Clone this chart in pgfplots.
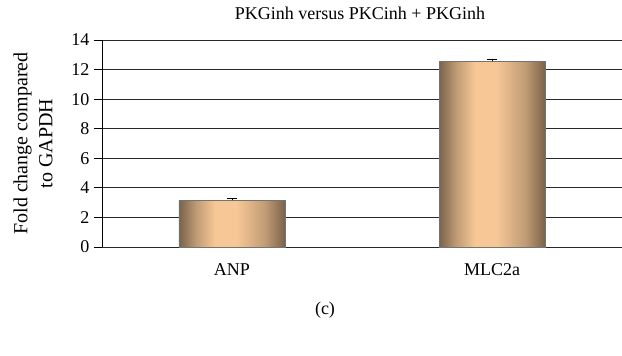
\documentclass[border=0pt]{standalone}
\usepackage{pgfplots}
\pgfplotsset{compat=1.18}
\usepackage{fontspec}
\setmainfont{Liberation Serif}

\definecolor{bardark}{RGB}{122,98,74}
\definecolor{barlight}{RGB}{247,200,150}
\definecolor{gridc}{RGB}{40,40,40}

% cylinder-like horizontal shading for the bars (mapped on 25bp..75bp)
\pgfdeclarehorizontalshading{barshade}{100bp}{%
  color(0bp)=(bardark); color(25bp)=(bardark);
  color(33bp)=(bardark!45!barlight); color(42bp)=(barlight);
  color(52bp)=(barlight); color(66bp)=(bardark!45!barlight);
  color(75bp)=(bardark); color(100bp)=(bardark)}

\pgfplotsset{
  cylbar/.style={
    draw=black!55, line width=0.5pt,
    shading=barshade, bar shift=0pt,
    error bars/.cd, y dir=plus, y explicit,
    error bar style={black, line width=0.9pt},
    error mark options={rotate=90, mark size=5pt, black, line width=0.9pt},
  },
}

\begin{document}
\begin{tikzpicture}
\path[use as bounding box] (0pt,0pt) rectangle (622pt,356pt);
\begin{axis}[
  at={(102pt,109pt)}, anchor=south west,
  scale only axis,
  width=520pt, height=207pt,
  xmin=-0.5, xmax=1.5,
  ymin=0, ymax=14,
  ytick={0,2,...,14},
  xtick={0,1},
  xticklabels={ANP,MLC2a},
  axis x line=bottom,
  axis y line=left,
  axis line style={-, black, line width=0.8pt},
  x axis line style={draw=gridc, line width=0.8pt},
  ymajorgrids,
  major grid style={gridc, line width=0.8pt},
  tick align=outside,
  major tick length=8pt,
  xtick style={draw=none},
  ytick style={black, line width=0.8pt},
  /pgf/number format/assume math mode=true,
  tick label style={font=\fontsize{18}{21}\selectfont},
  yticklabel style={xshift=-1pt},
  xticklabel style={yshift=-5pt},
  ylabel={Fold change compared\\to GAPDH},
  ylabel style={font=\fontsize{20}{25}\selectfont, align=center, yshift=12pt},
  ybar, bar width=106pt,
  clip=false,
]
\addplot[cylbar] coordinates {(0,3.15) +- (0,0.13)};
\addplot[cylbar] coordinates {(1,12.55) +- (0,0.12)};
\end{axis}
\node[font=\fontsize{18}{21}\selectfont] at (360pt,343pt) {PKGinh versus PKCinh + PKGinh};
\node[font=\fontsize{18}{21}\selectfont] at (325pt,46pt) {(c)};
\end{tikzpicture}
\end{document}
